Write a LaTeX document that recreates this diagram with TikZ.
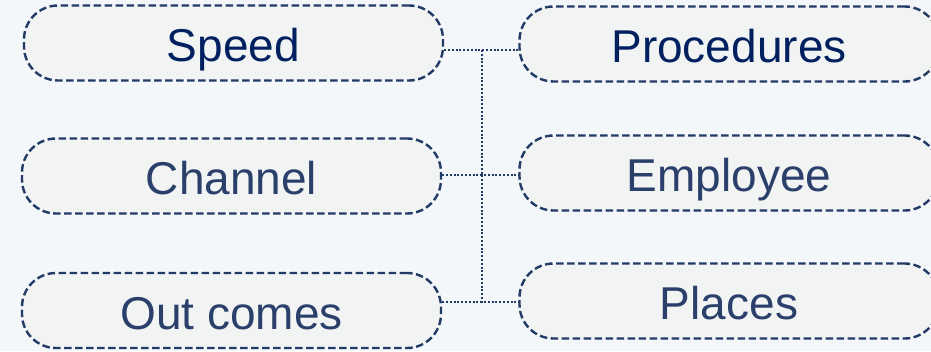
\documentclass[tikz,border=0pt]{standalone}
\usepackage{fontspec}
\setmainfont{Liberation Sans}
\definecolor{bgc}{HTML}{F4F7F9}
\definecolor{boxfill}{HTML}{F2F3F3}
\definecolor{boxline}{HTML}{223A66}
\definecolor{navy}{HTML}{002060}
\definecolor{slate}{HTML}{2B3F6B}
\begin{document}
\begin{tikzpicture}[x=1pt,y=-1pt,
  pill/.style={draw=boxline, fill=boxfill, line width=2.4pt,
    dash pattern=on 7.5pt off 3.5pt, rounded corners=34pt,
    minimum width=419pt, minimum height=75pt, inner sep=0pt,
    text height=37pt, text depth=0pt,
    font=\fontsize{46}{50}\selectfont, text=slate},
  dark/.style={text=navy},
  link/.style={draw=boxline, line width=2.2pt, dash pattern=on 2pt off 1.8pt}]
\fill[bgc] (0,0) rectangle (931,351);
\useasboundingbox (0,0) rectangle (931,351);
\node[pill,dark] (speed) at (233.5,43) {Speed};
\node[pill] (channel) at (231.5,176) {Channel};
\node[pill] (out) at (231.5,310.5) {Out comes};
\node[pill,dark] (proc) at (729,44) {Procedures};
\node[pill] (emp) at (729,173) {Employee};
\node[pill] (places) at (729,301) {Places};
\coordinate (j1) at (482,50);
\coordinate (j2) at (482,175);
\coordinate (j3) at (482,302);
\draw[link] (j1) -- (j3);
\draw[link] (speed.east |- j1) -- (j1) -- (proc.west |- j1);
\draw[link] (channel.east |- j2) -- (j2) -- (emp.west |- j2);
\draw[link] (out.east |- j3) -- (j3) -- (places.west |- j3);
\end{tikzpicture}
\end{document}
